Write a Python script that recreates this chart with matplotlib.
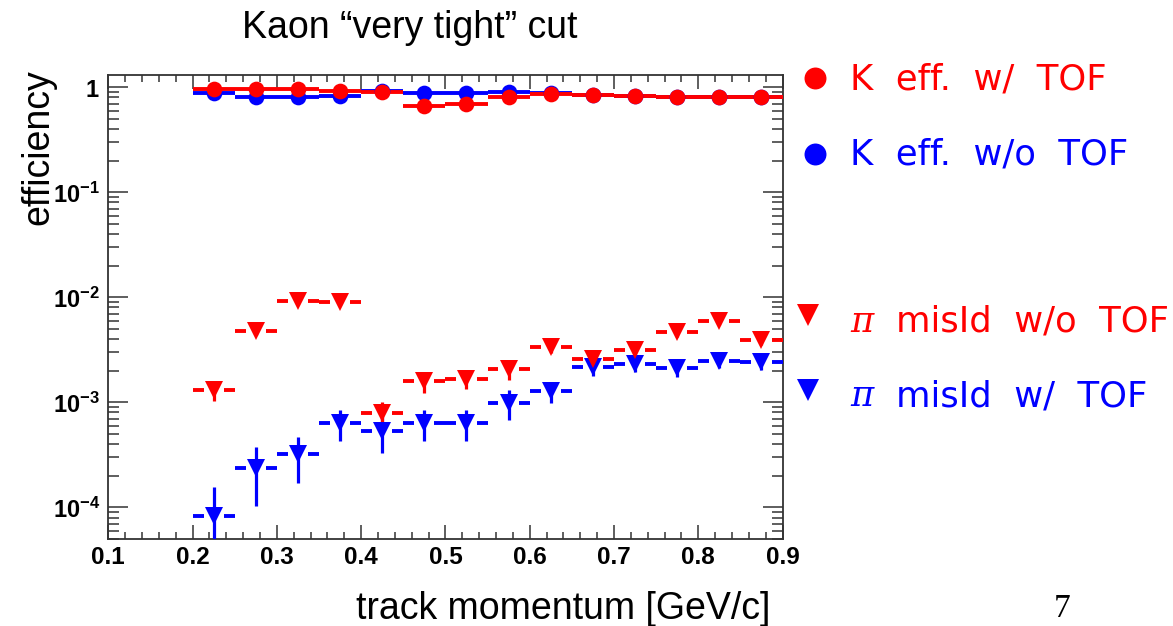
import matplotlib
matplotlib.use("Agg")
import matplotlib.pyplot as plt
from matplotlib.ticker import MultipleLocator, LogLocator, FixedLocator, FixedFormatter, NullFormatter
from matplotlib.lines import Line2D

# ---- data -----------------------------------------------------------------
bin_low = [0.20, 0.25, 0.30, 0.35, 0.40, 0.45, 0.50, 0.55, 0.60, 0.65, 0.70, 0.75, 0.80, 0.85]
bin_width = 0.05

k_eff_tof = [0.96, 0.96, 0.96, 0.92, 0.91, 0.66, 0.69, 0.80, 0.86, 0.85, 0.83, 0.81, 0.80, 0.80]
k_eff_notof = [0.88, 0.81, 0.80, 0.83, 0.93, 0.88, 0.89, 0.90, 0.88, 0.85, 0.83, 0.81, 0.80, 0.80]
k_err = [0.01] * 14

pi_mis_notof = [1.32e-3, 4.8e-3, 9.3e-3, 9.1e-3, 7.9e-4, 1.58e-3, 1.68e-3,
                2.07e-3, 3.33e-3, 2.61e-3, 3.16e-3, 4.72e-3, 5.96e-3, 3.94e-3]
pi_mis_notof_err = [2.8e-4, 4.0e-4, 6.0e-4, 6.0e-4, 2.2e-4, 3.6e-4, 3.3e-4,
                    4.3e-4, 4.0e-4, 4.0e-4, 4.5e-4, 5.0e-4, 5.5e-4, 4.5e-4]

pi_mis_tof = [8.2e-5, 2.39e-4, 3.19e-4, 6.4e-4, 5.3e-4, 6.4e-4, 6.4e-4,
              9.9e-4, 1.27e-3, 2.17e-3, 2.33e-3, 2.12e-3, 2.49e-3, 2.40e-3]
pi_mis_tof_err = [7.5e-5, 1.35e-4, 1.5e-4, 2.1e-4, 2.0e-4, 2.1e-4, 2.1e-4,
                  3.1e-4, 2.9e-4, 3.8e-4, 3.8e-4, 3.8e-4, 3.9e-4, 3.9e-4]

y_ticks = [1e-4, 1e-3, 1e-2, 1e-1, 1]
y_tick_labels = [r"$\mathbf{10^{-4}}$", r"$\mathbf{10^{-3}}$", r"$\mathbf{10^{-2}}$",
                 r"$\mathbf{10^{-1}}$", r"$\mathbf{1}$"]
x_ticks = [0.1, 0.2, 0.3, 0.4, 0.5, 0.6, 0.7, 0.8, 0.9]

RED = "#ff0000"
BLUE = "#0000ff"

plt.rcParams["mathtext.fontset"] = "custom"
plt.rcParams["mathtext.rm"] = "Liberation Sans:bold"
plt.rcParams["mathtext.bf"] = "Liberation Sans:bold"
plt.rcParams["mathtext.it"] = "Liberation Sans:bold"

W, H = 1173, 626
fig = plt.figure(figsize=(W / 100, H / 100), dpi=100)


def fx(px):
    return px / W


def fy(py):
    return 1 - py / H


left, right, top, bottom = 108.3, 782.5, 75.0, 539.3
ax = fig.add_axes([fx(left), fy(bottom), fx(right - left), (bottom - top) / H])
ax.set_xlim(0.1, 0.9)
ax.set_yscale("log")
ax.set_ylim(4.96e-5, 1.31)

centers = [lo + bin_width / 2 for lo in bin_low]
half = bin_width / 2


def draw_series(vals, errs, color, marker, ms, gap):
    for xc, v, e in zip(centers, vals, errs):
        lo_v = max(v - e, 1e-6)
        ax.vlines(xc, lo_v, v + e, color=color, lw=2.3, zorder=3)
        if gap > 0:
            ax.hlines([v, v], [xc - half, xc + gap], [xc - gap, xc + half],
                      color=color, lw=2.8, zorder=3)
        else:
            ax.hlines(v, xc - half, xc + half, color=color, lw=2.8, zorder=3)
    ax.plot(centers, vals, linestyle="none", marker=marker, ms=ms,
            color=color, markeredgewidth=0, zorder=4)


draw_series(k_eff_notof, k_err, BLUE, "o", 11.3, 0)
draw_series(k_eff_tof, k_err, RED, "o", 11.3, 0)
draw_series(pi_mis_tof, pi_mis_tof_err, BLUE, "v", 12.8, 0.012)
draw_series(pi_mis_notof, pi_mis_notof_err, RED, "v", 12.8, 0.012)

# frame and ticks
for sp in ax.spines.values():
    sp.set_color("#333333")
    sp.set_linewidth(1.3)

ax.xaxis.set_major_locator(FixedLocator(x_ticks))
ax.xaxis.set_minor_locator(MultipleLocator(0.02))
ax.xaxis.set_major_formatter(FixedFormatter([f"{t:.1f}" for t in x_ticks]))
ax.yaxis.set_major_locator(FixedLocator(y_ticks))
ax.yaxis.set_major_formatter(FixedFormatter(y_tick_labels))
ax.yaxis.set_minor_locator(LogLocator(base=10, subs=[2, 3, 4, 5, 6, 7, 8, 9], numticks=20))
ax.yaxis.set_minor_formatter(NullFormatter())

ax.tick_params(axis="x", which="major", direction="in", top=True, bottom=True,
               length=10, width=1.1, color="#333333", pad=5, labelsize=17.5)
ax.tick_params(axis="x", which="minor", direction="in", top=True, bottom=True,
               length=5, width=1.1, color="#333333")
ax.tick_params(axis="y", which="major", direction="in", left=True, right=True,
               length=14.5, width=1.1, color="#333333", pad=6, labelsize=17)
ax.tick_params(axis="y", which="minor", direction="in", left=True, right=True,
               length=8, width=1.1, color="#333333")
for lab in ax.get_xticklabels():
    lab.set_fontfamily("Liberation Sans")
    lab.set_fontweight("bold")

# titles
fig.text(fx(410), fy(38), "Kaon \u201cvery tight\u201d cut", fontsize=27,
         family="Liberation Sans", ha="center", va="baseline")
fig.text(fx(563), fy(619), "track momentum [GeV/c]", fontsize=27,
         family="Liberation Sans", ha="center", va="baseline")
fig.text(fx(38), fy(147), "efficiency", fontsize=27, family="Liberation Sans",
         rotation=90, ha="center", va="center")
fig.text(fx(1062), fy(609), "7", fontsize=24, family="Liberation Serif",
         ha="center", va="center")

# legend entries
legend_font = 25.5
entries = [
    (815, 78.3, "o", 15.8, RED, None, "K  eff.  w/  TOF", 89.3),
    (815, 154.0, "o", 15.8, BLUE, None, "K  eff.  w/o  TOF", 165.0),
    (808.3, 315.0, "v", 16.3, RED, "\u03c0", "misId  w/o  TOF", 331.7),
    (808.3, 390.0, "v", 16.3, BLUE, "\u03c0", "misId  w/  TOF", 406.0),
]
for mx, my, mk, ms, col, greek, label, base in entries:
    fig.add_artist(Line2D([fx(mx)], [fy(my)], marker=mk, ms=ms, color=col,
                          markeredgewidth=0, transform=fig.transFigure))
    if greek is None:
        fig.text(fx(850), fy(base), label, fontsize=legend_font, color=col,
                 family="DejaVu Sans", ha="left", va="baseline")
    else:
        fig.text(fx(850), fy(base), greek, fontsize=legend_font, color=col,
                 family="DejaVu Serif", style="italic", ha="left", va="baseline")
        fig.text(fx(896), fy(base), label, fontsize=legend_font, color=col,
                 family="DejaVu Sans", ha="left", va="baseline")

fig.savefig("out.png", dpi=100)
